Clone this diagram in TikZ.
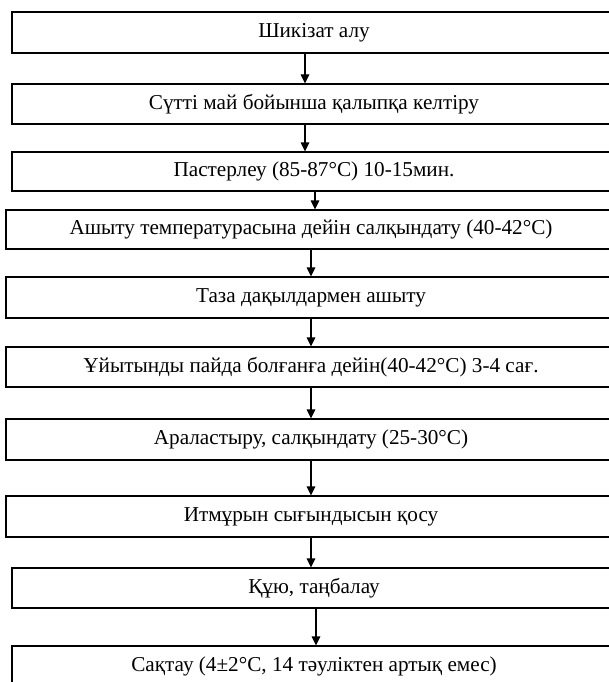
\documentclass[tikz,border=0pt]{standalone}
\usepackage{fontspec}
\setmainfont{Liberation Serif}
\usetikzlibrary{arrows.meta}
\tikzset{
  stepbox/.style={draw=black, line width=1.1pt, fill=white, inner sep=0pt, font=\fontsize{21.2}{24}\selectfont},
  arr/.style={draw=black, line width=1.1pt, -{Triangle[length=9pt,width=8.5pt]}}
}
\newcommand{\mybox}[6]{% name, left, top, right, bottom, text
  \node[stepbox, minimum width={#4-#2}, minimum height={#5-#3}] (#1) at ({(#2+#4)/2},{(#3+#5)/2}) {#6};}
\begin{document}
\begin{tikzpicture}[x=1pt,y=-1pt]
\useasboundingbox (0,0) rectangle (609,682);
\clip (0,0) rectangle (609,682);
\fill[white] (0,0) rectangle (609,682);
\mybox{b1}{12}{12}{616}{53}{Шикізат алу}
\mybox{b2}{12}{84}{616}{124}{Сүтті май бойынша қалыпқа келтіру}
\mybox{b3}{12}{152}{616}{191}{Пастерлеу (85-87°С) 10-15мин.}
\mybox{b4}{6}{210}{616}{249}{Ашыту температурасына дейін салқындату (40-42°С)}
\mybox{b5}{6}{277}{616}{318}{Таза дақылдармен ашыту}
\mybox{b6}{6}{347}{616}{387}{Ұйытынды пайда болғанға дейін(40-42°С) 3-4 сағ.}
\mybox{b7}{6}{419}{616}{460}{Араластыру, салқындату (25-30°С)}
\mybox{b8}{6}{496}{616}{537}{Итмұрын сығындысын қосу}
\mybox{b9}{12}{568}{616}{608}{Құю, таңбалау}
\mybox{b10}{12}{646}{616}{686}{Сақтау (4±2°С, 14 тәуліктен артық емес)}
\draw[arr] (b1.south -| 305,0) -- (b2.north -| 305,0);
\draw[arr] (b2.south -| 305,0) -- (b3.north -| 305,0);
\draw[arr] (b3.south -| 315,0) -- (b4.north -| 315,0);
\draw[arr] (b4.south -| 311,0) -- (b5.north -| 311,0);
\draw[arr] (b5.south -| 311,0) -- (b6.north -| 311,0);
\draw[arr] (b6.south -| 311,0) -- (b7.north -| 311,0);
\draw[arr] (b7.south -| 311,0) -- (b8.north -| 311,0);
\draw[arr] (b8.south -| 311,0) -- (b9.north -| 311,0);
\draw[arr] (b9.south -| 316,0) -- (b10.north -| 316,0);
\end{tikzpicture}
\end{document}
